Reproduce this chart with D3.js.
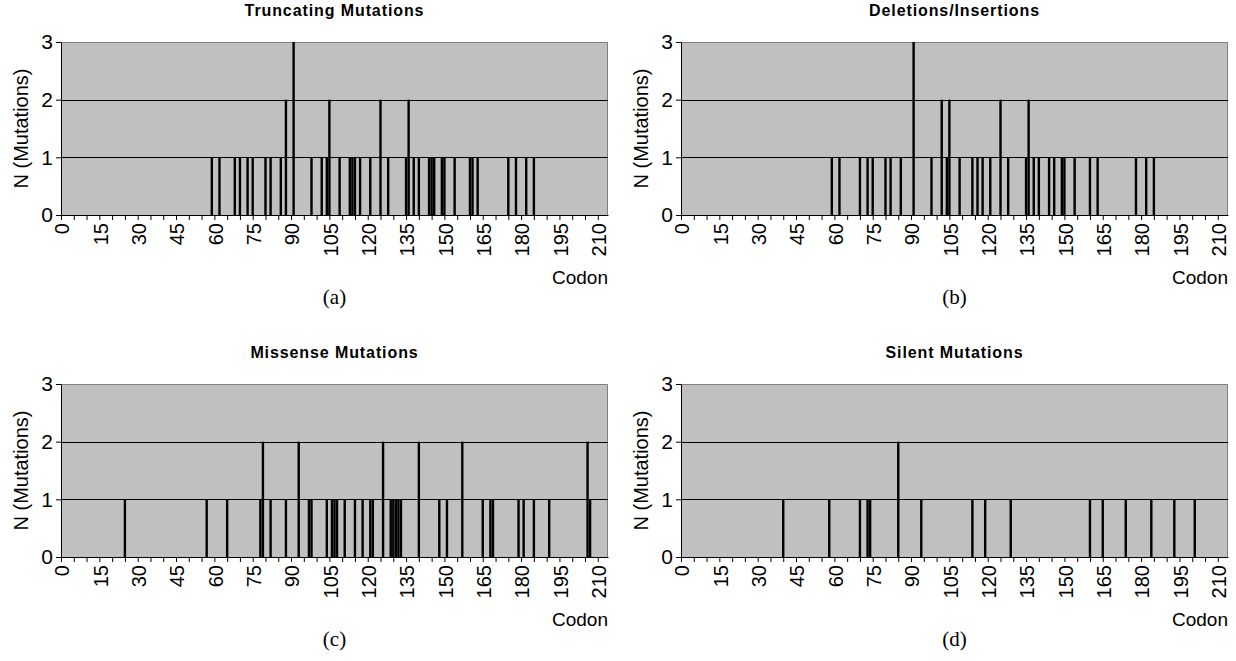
<!DOCTYPE html>
<html>
<head>
<meta charset="utf-8">
<script src="https://cdn.jsdelivr.net/npm/d3@7"></script>
<style>
  body { margin: 0; background: #fff; }
  svg { display: block; font-family: "Liberation Sans", Arial, sans-serif; }
</style>
</head>
<body>
<svg id="chart" width="1236" height="661"></svg>
<script>
// --- Data: [codon, number of mutations] per panel ---
const truncating = [
  [59,1],[62,1],[68,1],[70,1],[73,1],[75,1],[80,1],[82,1],[86,1],[88,2],[91,3],
  [98,1],[102,1],[104,1],[105,2],[109,1],[113,1],[114,1],[115,1],[117,1],[121,1],
  [125,2],[128,1],[135,1],[136,2],[138,1],[140,1],[144,1],[145,1],[146,1],[149,1],
  [150,1],[154,1],[160,1],[161,1],[163,1],[175,1],[178,1],[182,1],[185,1]
];
const delIns = [
  [59,1],[62,1],[70,1],[73,1],[75,1],[80,1],[82,1],[86,1],[91,3],[98,1],[102,2],
  [104,1],[105,2],[109,1],[114,1],[116,1],[118,1],[121,1],[125,2],[128,1],[135,1],
  [136,2],[138,1],[140,1],[144,1],[146,1],[149,1],[150,1],[154,1],[160,1],[163,1],
  [178,1],[182,1],[185,1]
];
const missense = [
  [25,1],[57,1],[65,1],[78,1],[79,2],[82,1],[88,1],[93,2],[97,1],[98,1],[104,1],
  [106,1],[107,1],[108,1],[111,1],[115,1],[118,1],[121,1],[122,1],[126,2],[129,1],
  [130,1],[131,1],[132,1],[133,1],[140,2],[148,1],[151,1],[157,2],[165,1],[168,1],
  [169,1],[179,1],[181,1],[185,1],[191,1],[206,2],[207,1]
];
const silent = [
  [40,1],[58,1],[70,1],[73,1],[74,1],[85,2],[94,1],[114,1],[119,1],[129,1],
  [160,1],[165,1],[174,1],[184,1],[193,1],[201,1]
];

const titles = ["Truncating Mutations", "Deletions/Insertions", "Missense Mutations", "Silent Mutations"];
const captions = ["(a)", "(b)", "(c)", "(d)"];
const codonLabels = [0, 15, 30, 45, 60, 75, 90, 105, 120, 135, 150, 165, 180, 195, 210];
const countTicks = [0, 1, 2, 3];

// --- Layout ---
const panelW = 547, panelH = 173;
const origins = [[61, 42], [681, 42], [61, 384], [681, 384]];
const series = [truncating, delIns, missense, silent];

const x = d3.scaleLinear().domain([0, 214]).range([0, panelW]);
const y = d3.scaleLinear().domain([0, 3]).range([panelH, 0]);

const svg = d3.select("#chart");

series.forEach((data, i) => {
  const g = svg.append("g")
      .attr("transform", `translate(${origins[i][0]}, ${origins[i][1]})`);

  // plot area
  g.append("rect")
      .attr("width", panelW)
      .attr("height", panelH)
      .attr("fill", "#c0c0c0");

  // grey frame top / right
  g.append("path")
      .attr("d", `M0,0.5H${panelW - 0.5}V${panelH}`)
      .attr("fill", "none")
      .attr("stroke", "#808080")
      .attr("stroke-width", 1);

  // gridlines
  g.selectAll(".grid")
    .data([1, 2])
    .enter()
    .append("line")
      .attr("x1", 0)
      .attr("x2", panelW)
      .attr("y1", d => Math.round(y(d)) + 0.5)
      .attr("y2", d => Math.round(y(d)) + 0.5)
      .attr("stroke", "#000")
      .attr("stroke-width", 1);

  // bars
  g.selectAll(".bar")
    .data(data)
    .enter()
    .append("rect")
      .attr("x", d => x(d[0]) - 1.2)
      .attr("width", 2.4)
      .attr("y", d => y(d[1]))
      .attr("height", d => panelH - y(d[1]))
      .attr("fill", "#000");

  // x axis: ticks every 5 codons, labels every 15
  g.append("g")
      .attr("transform", `translate(0, ${panelH})`)
      .call(d3.axisBottom(x).tickValues(d3.range(0, 214, 5)).tickSize(5).tickSizeOuter(0).tickFormat(""))
      .call(a => a.select(".domain").attr("stroke", "#000"));

  g.selectAll(".xlab")
    .data(codonLabels)
    .enter()
    .append("text")
      .attr("transform", d => `translate(${x(d) + 1}, ${panelH + 8}) rotate(-90)`)
      .attr("text-anchor", "end")
      .attr("dy", "0.36em")
      .attr("font-size", 20)
      .text(d => d);

  // y axis
  g.append("g")
      .call(d3.axisLeft(y).tickValues(countTicks).tickSize(5).tickSizeOuter(0).tickFormat(d3.format("d")))
      .call(a => a.selectAll("text").attr("font-size", 21).attr("font-family", "Liberation Sans, Arial, sans-serif").attr("fill", "#000"));

  g.append("text")
      .attr("transform", `translate(-33, ${panelH / 2}) rotate(-90)`)
      .attr("text-anchor", "middle")
      .attr("font-size", 20)
      .text("N (Mutations)");

  g.append("text")
      .attr("x", panelW)
      .attr("y", panelH + 69)
      .attr("text-anchor", "end")
      .attr("font-size", 19)
      .text("Codon");

  g.append("text")
      .attr("x", panelW / 2)
      .attr("y", -26)
      .attr("text-anchor", "middle")
      .attr("font-size", 16)
      .attr("font-weight", "bold")
      .attr("letter-spacing", 0.9)
      .text(titles[i]);

  g.append("text")
      .attr("x", panelW / 2)
      .attr("y", panelH + 89)
      .attr("text-anchor", "middle")
      .attr("font-family", "Liberation Serif, Times New Roman, serif")
      .attr("font-size", 21)
      .text(captions[i]);
});
</script>
</body>
</html>
